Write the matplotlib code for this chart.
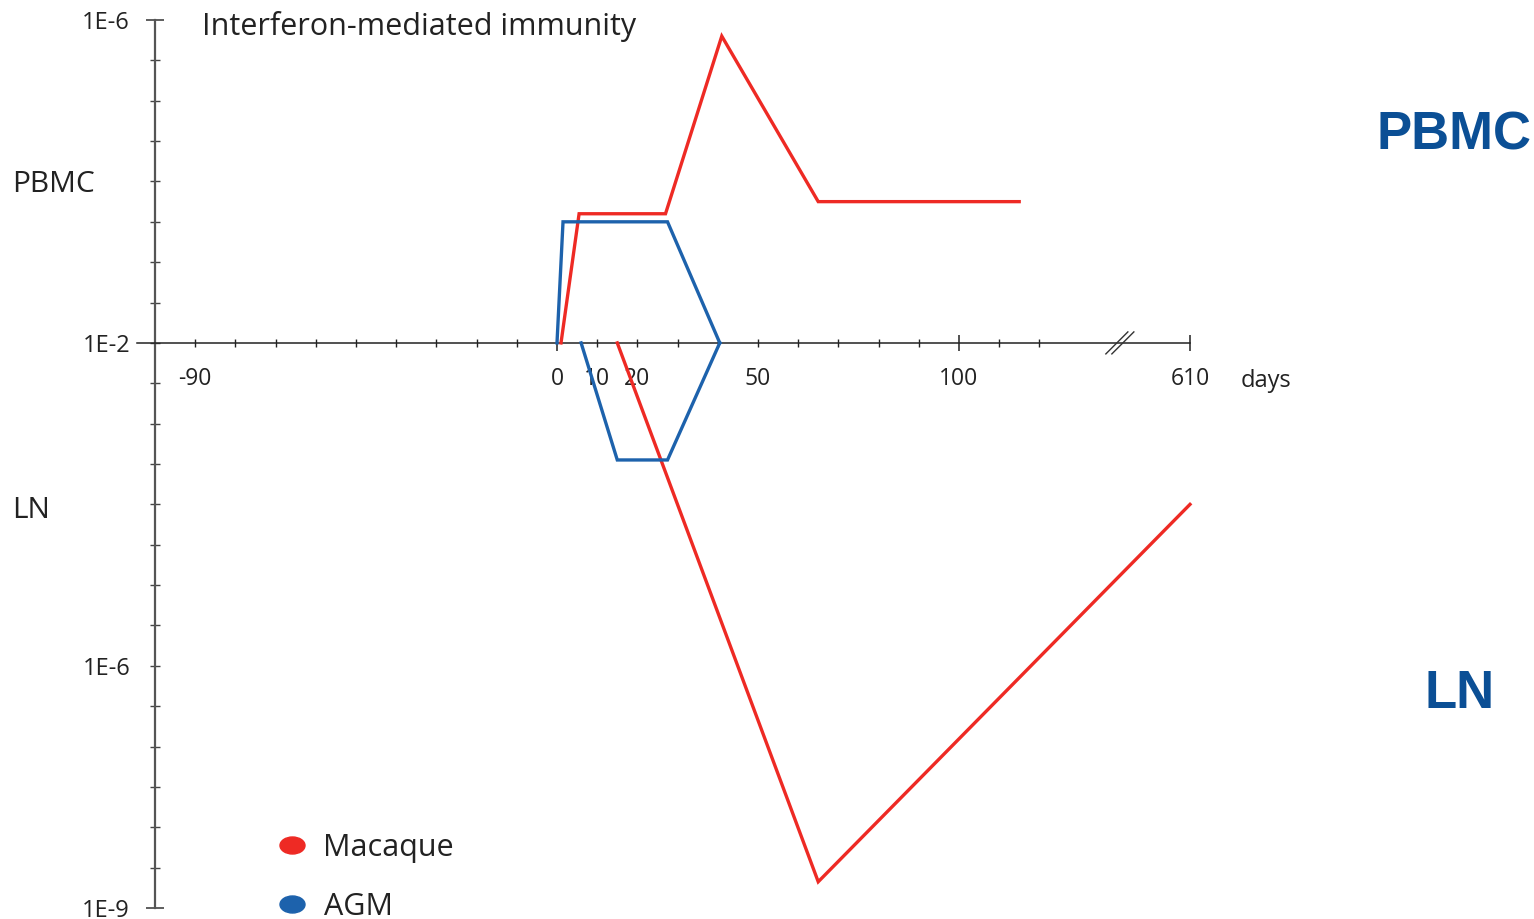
import numpy as np
import matplotlib
matplotlib.use("Agg")
import matplotlib.pyplot as plt
from matplotlib.path import Path
from matplotlib.lines import Line2D

# ---------------- data (days, level in tick units; 0 = 1E-2 line) ----------------
macaque_pbmc_days = [1, 5.5, 27, 41, 65, 115]
macaque_pbmc_level = [0, 3.2, 3.2, 7.6, 3.5, 3.5]
agm_pbmc_days = [0, 1.5, 27.5, 40.5]
agm_pbmc_level = [0, 3.0, 3.0, 0]
agm_ln_days = [6, 15, 27.5, 40.5]
agm_ln_level = [0, -2.9, -2.9, 0]
macaque_ln_days = [15, 65, 610]
macaque_ln_level = [0, -13.35, -4.0]

x_minor_ticks = [-90, -80, -70, -60, -50, -40, -30, -20, -10, 10, 20, 30, 40, 50,
                 60, 70, 80, 90, 110, 120]
x_minor_labels = {-90: "-90", 10: "10", 20: "20", 50: "50"}
x_major_ticks = [0, 100, 610]
x_major_labels = ["0", "100", "610"]

y_major_ticks = [8, -14]
y_major_labels = ["1E-6", "1E-9"]
y_minor_ticks = [7, 6, 5, 4, 3, 2, 1, 0, -1, -2, -3, -4, -5, -6, -7, -8, -9, -10,
                 -11, -12, -13]
y_minor_labels = {0: "1E-2", -8: "1E-6"}

RED = "#EE2A24"
BLUE = "#1D62AC"
DARKBLUE = "#0B4F95"
FONT = "Open Sans"

W, H = 1534, 919
plt.rcParams["font.family"] = [FONT, "DejaVu Sans"]
fig = plt.figure(figsize=(W / 100, H / 100), dpi=100)


def fx(px):
    return px / W


def fy(py):
    return 1 - py / H


ax = fig.add_axes([fx(137), fy(908), fx(1190) - fx(137), fy(20) - fy(908)])

BREAK = 140.0
SQUEEZE = 17.5 / 470.0


def fwd(x):
    x = np.asarray(x, dtype=float)
    return np.where(x <= BREAK, x, BREAK + (x - BREAK) * SQUEEZE)


def inv(x):
    x = np.asarray(x, dtype=float)
    return np.where(x <= BREAK, x, BREAK + (x - BREAK) / SQUEEZE)


ax.set_xscale("function", functions=(fwd, inv))
ax.set_xlim(-104.5, 610)
ax.set_ylim(-14, 8)

for s in ["top", "right"]:
    ax.spines[s].set_visible(False)
ax.spines["left"].set_position(("data", -100))
ax.spines["bottom"].set_position(("data", 0))
ax.spines["left"].set_color("#555555")
ax.spines["left"].set_linewidth(1.6)
ax.spines["bottom"].set_color("#222222")
ax.spines["bottom"].set_linewidth(1.1)

# x ticks
ax.set_xticks(x_major_ticks, x_major_labels)
ax.set_xticks(x_minor_ticks, [x_minor_labels.get(t, "") for t in x_minor_ticks], minor=True)
ax.tick_params(axis="x", which="major", direction="inout", length=11.5, width=1.1,
               color="#222222", pad=11.5, labelsize=16.5, labelcolor="#222222")
ax.tick_params(axis="x", which="minor", direction="inout", length=5.8, width=1.0,
               color="#222222", pad=14.4, labelsize=16.5, labelcolor="#222222")

# y ticks
ax.set_yticks(y_major_ticks, y_major_labels)
ax.set_yticks(y_minor_ticks, [y_minor_labels.get(t, "") for t in y_minor_ticks], minor=True)
ax.tick_params(axis="y", which="major", direction="inout", length=13.5, width=1.1,
               color="#333333", pad=11.5, labelsize=17, labelcolor="#222222")
ax.tick_params(axis="y", which="minor", direction="inout", length=7.2, width=1.0,
               color="#444444", pad=14.4, labelsize=17, labelcolor="#222222")

# series
lw = 2.4
ax.plot(macaque_pbmc_days, macaque_pbmc_level, color=RED, lw=lw, clip_on=False,
        solid_joinstyle="miter", label="Macaque", zorder=3)
ax.plot(macaque_ln_days, macaque_ln_level, color=RED, lw=lw, clip_on=False,
        solid_joinstyle="miter", zorder=3)
ax.plot(agm_pbmc_days, agm_pbmc_level, color=BLUE, lw=lw, clip_on=False,
        solid_joinstyle="miter", label="AGM", zorder=3)
ax.plot(agm_ln_days, agm_ln_level, color=BLUE, lw=lw, clip_on=False,
        solid_joinstyle="miter", zorder=3)

# axis break marks (drawn after layout is fixed; axes position is explicit)
bx = 141.3
p0 = ax.transData.transform((bx, 0))
for off in (-3, 3):
    line = Line2D([p0[0] + off - 11, p0[0] + off + 11], [p0[1] - 11, p0[1] + 11],
                  transform=None, color="#333333", lw=1.0)
    fig.add_artist(line)

# texts
fig.text(fx(202), fy(26), "Interferon-mediated immunity", fontsize=22,
         va="center", ha="left", color="#222222")
fig.text(fx(12), fy(184), "PBMC", fontsize=21.5, va="center", ha="left", color="#222222")
fig.text(fx(12), fy(511), "LN", fontsize=21.5, va="center", ha="left", color="#222222")
fig.text(fx(1241), fy(381), "days", fontsize=17, va="center", ha="left", color="#222222")
fig.text(fx(1376), fy(136), "PBMC", fontsize=38, fontweight="bold",
         family="Liberation Sans", va="center", ha="left", color=DARKBLUE)
fig.text(fx(1424), fy(694), "LN", fontsize=38, fontweight="bold",
         family="Liberation Sans", va="center", ha="left", color=DARKBLUE)

# legend with elliptical markers
ell = Path.unit_circle()
ell = Path(ell.vertices * np.array([1.0, 0.68]), ell.codes)
handles = [Line2D([], [], ls="none", marker=ell, markersize=18, color=RED),
           Line2D([], [], ls="none", marker=ell, markersize=18, color=BLUE)]
leg = fig.legend(handles, ["Macaque", "AGM"], loc="upper left",
                 bbox_to_anchor=(fx(274), fy(833)), frameon=False, fontsize=22,
                 handlelength=1.2, handletextpad=0.42, borderpad=0,
                 borderaxespad=0, labelspacing=0.95, labelcolor="#222222")

fig.savefig("out.png", dpi=100)
